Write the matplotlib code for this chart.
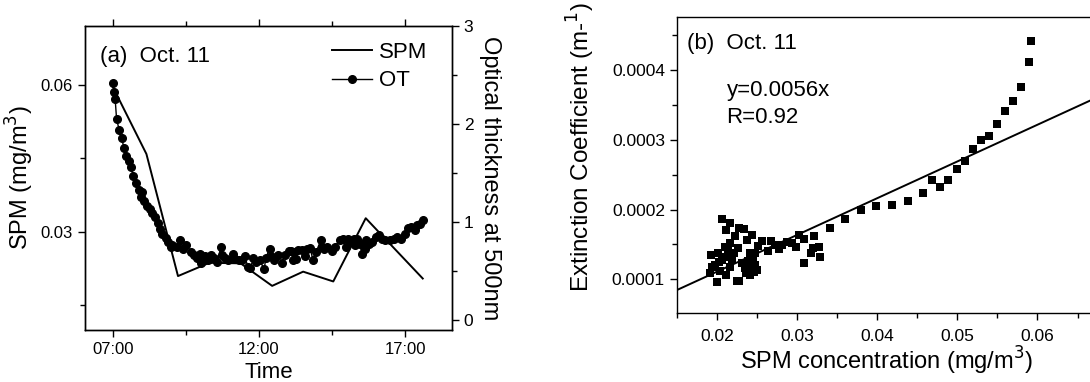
import matplotlib
matplotlib.use('Agg')
import matplotlib.pyplot as plt
from matplotlib.ticker import MultipleLocator, FixedLocator, FixedFormatter, FormatStrFormatter
from matplotlib.lines import Line2D

plt.rcParams['font.family'] = ['Liberation Sans', 'DejaVu Sans']

# ---------------- data: panel (a) ----------------
spm_time = [7.0, 8.15, 9.23, 10.3, 11.37, 12.45, 13.51, 14.54, 15.65, 16.6, 17.6]
spm_val = [0.0596, 0.0459, 0.0210, 0.0237, 0.0236, 0.0190, 0.0219, 0.0199, 0.0328, 0.0268, 0.0205]

ot_time = [7.00, 7.05, 7.08, 7.13, 7.22, 7.30, 7.38, 7.45, 7.54, 7.62, 7.70, 7.78, 7.89, 7.97, 8.00,
           8.08, 8.18, 8.26, 8.34, 8.45, 8.54, 8.61, 8.70, 8.81, 8.88, 8.99,
           9.02, 9.18, 9.31, 9.39, 9.52, 9.66, 9.77, 9.87, 9.98, 10.03, 10.14, 10.25, 10.36, 10.46,
           10.57, 10.70, 10.73, 10.84, 10.95, 11.11, 11.19, 11.32, 11.43, 11.52, 11.62, 11.70, 11.81,
           11.91, 12.02, 12.18, 12.23, 12.36, 12.40, 12.50, 12.66, 12.77, 12.88, 13.02,
           13.10, 13.16, 13.21, 13.26, 13.32, 13.48, 13.58, 13.64, 13.74, 13.85, 13.96, 14.12, 14.15,
           14.22, 14.33, 14.49, 14.60, 14.76, 14.86, 14.97, 15.03, 15.13, 15.24, 15.29, 15.35, 15.45,
           15.51, 15.61, 15.67, 15.77, 15.88, 15.99, 16.09, 16.20, 16.31, 16.47, 16.63, 16.73, 16.84,
           17.00, 17.11, 17.21, 17.32, 17.42, 17.52, 17.62]
ot_val = [2.42, 2.33, 2.26, 2.05, 1.94, 1.86, 1.76, 1.67, 1.62, 1.56, 1.47, 1.40, 1.33, 1.26, 1.31,
          1.22, 1.16, 1.13, 1.09, 1.05, 0.99, 0.93, 0.88, 0.84, 0.80, 0.75,
          0.77, 0.75, 0.82, 0.73, 0.77, 0.70, 0.66, 0.63, 0.68, 0.58, 0.65, 0.61, 0.66, 0.63,
          0.59, 0.75, 0.66, 0.63, 0.61, 0.68, 0.62, 0.61, 0.61, 0.65, 0.54, 0.53, 0.63,
          0.59, 0.61, 0.52, 0.63, 0.73, 0.65, 0.61, 0.66, 0.58, 0.66, 0.71,
          0.71, 0.61, 0.70, 0.62, 0.72, 0.72, 0.65, 0.73, 0.74, 0.61, 0.70, 0.82, 0.75,
          0.73, 0.75, 0.71, 0.75, 0.82, 0.83, 0.75, 0.83, 0.80, 0.83, 0.77, 0.83, 0.78,
          0.68, 0.73, 0.82, 0.78, 0.80, 0.85, 0.87, 0.83, 0.82, 0.82, 0.83, 0.85, 0.83,
          0.88, 0.94, 0.95, 0.92, 0.97, 0.98, 1.02]

time_tick_labels = ['07:00', '12:00', '17:00']

# ---------------- data: panel (b) ----------------
ext_x = [0.0592, 0.0590, 0.0580, 0.0570, 0.0560, 0.0550, 0.0540, 0.0530, 0.0520, 0.0510, 0.0500,
         0.0489, 0.0479, 0.0469, 0.0457, 0.0438, 0.0418, 0.0399, 0.0380, 0.0360, 0.0341,
         0.0321, 0.0327, 0.0329, 0.0317, 0.0320, 0.0309, 0.0309, 0.0303, 0.0299, 0.0294, 0.0287,
         0.0281, 0.0277, 0.0273, 0.0267, 0.0264, 0.0256, 0.0251,
         0.0207, 0.0217, 0.0212, 0.0228, 0.0234, 0.0223, 0.0238, 0.0244, 0.0193, 0.0201, 0.0210,
         0.0216, 0.0227, 0.0221, 0.0206, 0.0198, 0.0192, 0.0200, 0.0212, 0.0225, 0.0228, 0.0217,
         0.0194, 0.0204, 0.0219, 0.0231, 0.0235, 0.0242, 0.0246, 0.0248, 0.0244, 0.0240, 0.0248,
         0.0242, 0.0210, 0.0203, 0.0214, 0.0243, 0.0247, 0.0239, 0.0236, 0.0250, 0.0245]
ext_y = [0.000442, 0.000412, 0.000376, 0.000356, 0.000341, 0.000322, 0.000305, 0.000299, 0.000287,
         0.000270, 0.000258, 0.000243, 0.000233, 0.000243, 0.000224, 0.000212, 0.000207, 0.000205,
         0.000199, 0.000186, 0.000173,
         0.000162, 0.000147, 0.000132, 0.000138, 0.000145, 0.000124, 0.000158, 0.000164, 0.000147,
         0.000152, 0.000154, 0.000149, 0.000143, 0.000149, 0.000155, 0.000141, 0.000155, 0.000148,
         0.000186, 0.000181, 0.000171, 0.000173, 0.000172, 0.000162, 0.000156, 0.000164, 0.000135,
         0.000137, 0.000147, 0.000152, 0.000145, 0.000137, 0.000128, 0.000121, 0.000109, 0.000096,
         0.000106, 0.000098, 0.000098, 0.000118, 0.000118, 0.000112, 0.000129, 0.000123, 0.000116,
         0.000106, 0.000111, 0.000121, 0.000123, 0.000118, 0.000137, 0.000137, 0.000132, 0.000125,
         0.000140, 0.000114, 0.000118, 0.000126, 0.000109, 0.000113, 0.000128]

fit_x = [0.015, 0.0673]
fit_y = [0.0000845, 0.000360]

W, H = 1090.0, 382.0
fig = plt.figure(figsize=(W / 100, H / 100), dpi=100)

# ---------------- panel (a) ----------------
ax1 = fig.add_axes([85 / W, 1 - 330 / H, 367 / W, 304 / H])
ax1.plot(spm_time, spm_val, color='black', lw=1.4)
ax1.set_xlim(6.05, 18.6)
ax1.set_ylim(0.010, 0.072)
tick_pos = [int(s.split(':')[0]) + int(s.split(':')[1]) / 60 for s in time_tick_labels]
ax1.xaxis.set_major_locator(FixedLocator(tick_pos))
ax1.xaxis.set_major_formatter(FixedFormatter(time_tick_labels))
ax1.xaxis.set_minor_locator(FixedLocator([9.5, 14.5]))
ax1.yaxis.set_major_locator(MultipleLocator(0.03))
ax1.yaxis.set_minor_locator(MultipleLocator(0.015))
ax1.yaxis.set_major_formatter(FormatStrFormatter('%.2f'))
ax1.tick_params(axis='both', which='major', labelsize=12, length=5, width=1, direction='out', pad=4)
ax1.tick_params(axis='both', which='minor', length=3.5, width=1, direction='out')
ax1.tick_params(axis='x', which='both', top=True)
ax1.set_xlabel('Time', fontsize=16, labelpad=3)
ax1.set_ylabel('SPM (mg/m$^3$)', fontsize=17, labelpad=3)

ax1b = ax1.twinx()
ax1b.plot(ot_time, ot_val, '-o', color='black', lw=1.0, ms=5.5)
ax1b.set_ylim(-0.1, 3.0)
ax1b.yaxis.set_major_locator(MultipleLocator(1))
ax1b.yaxis.set_minor_locator(MultipleLocator(0.5))
ax1b.tick_params(axis='y', which='major', labelsize=12.5, length=5, width=1, direction='out')
ax1b.tick_params(axis='y', which='minor', length=3.5, width=1, direction='out')
ax1b.set_ylabel('Optical thickness at 500nm', fontsize=17, rotation=270, labelpad=20)

for a in (ax1, ax1b):
    for s in a.spines.values():
        s.set_linewidth(1.0)

ax1.text(0.042, 0.90, '(a)  Oct. 11', transform=ax1.transAxes, fontsize=16, va='center', ha='left')
handles = [Line2D([], [], color='black', lw=1.4),
           Line2D([], [], color='black', lw=1.0, marker='o', ms=5.5)]
ax1b.legend(handles, ['SPM', 'OT'], loc='upper right', frameon=False, fontsize=16,
            handlelength=1.8, handletextpad=0.3, borderaxespad=0.3, labelspacing=0.35,
            bbox_to_anchor=(0.975, 1.0))

# ---------------- panel (b) ----------------
ax2 = fig.add_axes([676.7 / W, 1 - 313.3 / H, (1096 - 676.7) / W, 296 / H])
ax2.scatter(ext_x, ext_y, marker='s', s=30, color='black', linewidths=0)
ax2.plot(fit_x, fit_y, color='black', lw=1.4)
ax2.set_xlim(0.015, 0.0673)
ax2.set_ylim(0.0000513, 0.0004755)
ax2.xaxis.set_major_locator(MultipleLocator(0.01))
ax2.xaxis.set_minor_locator(MultipleLocator(0.005))
ax2.yaxis.set_major_locator(MultipleLocator(0.0001))
ax2.yaxis.set_minor_locator(MultipleLocator(0.00005))
ax2.xaxis.set_major_formatter(FormatStrFormatter('%.2f'))
ax2.yaxis.set_major_formatter(FormatStrFormatter('%.4f'))
ax2.tick_params(axis='both', which='major', labelsize=12.5, length=5, width=1, direction='out')
ax2.tick_params(axis='x', which='major', pad=6)
ax2.tick_params(axis='both', which='minor', length=3.5, width=1, direction='out')
ax2.set_xlabel('SPM concentration (mg/m$^3$)', fontsize=17, labelpad=1)
ax2.set_ylabel('Extinction Coefficient (m-$^{1}$)', fontsize=17.5, labelpad=6)
ax2.yaxis.set_label_coords(-0.19, 0.56)
for s in ax2.spines.values():
    s.set_linewidth(1.0)
ax2.text(0.024, 0.913, '(b)  Oct. 11', transform=ax2.transAxes, fontsize=16, va='center', ha='left')
ax2.text(0.119, 0.754, 'y=0.0056x', transform=ax2.transAxes, fontsize=16, va='center', ha='left')
ax2.text(0.119, 0.66, 'R=0.92', transform=ax2.transAxes, fontsize=16, va='center', ha='left')

fig.savefig('out.png', dpi=100)
